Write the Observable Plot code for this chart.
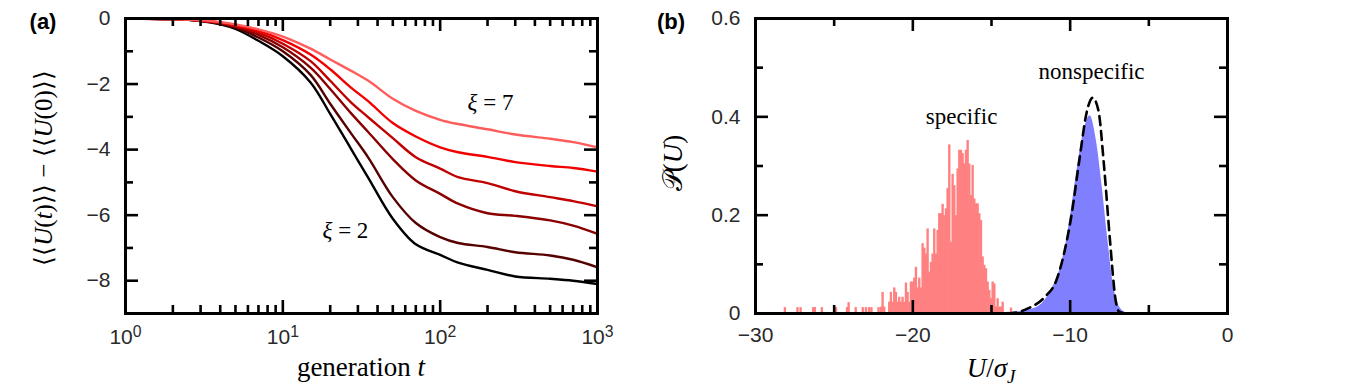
<!DOCTYPE html>
<html><head><meta charset="utf-8">
<script src="https://cdn.jsdelivr.net/npm/d3@7"></script>
<script src="https://cdn.jsdelivr.net/npm/@observablehq/plot@0.6"></script>
<style>
body{margin:0;background:#fff;}
#wrap{position:relative;width:1355px;height:390px;overflow:hidden;background:#fff;}
#wrap svg{position:absolute;top:0;}
.serif{font-family:'Liberation Serif','Times New Roman',serif !important;}
</style></head><body><div id="wrap"></div>
<script>
// ---------- Panel (a) data ----------
const generations = [1,2,3,4,5,7,10,15,20,27,35,50,70,100,130,200,300,500,700,1000];
const xiValues = [2,3,4,5,6,7];
const xiColors = ["#000000","#560000","#8a0000","#c00000","#f20000","#ff5c5c"];
const curveXi2 = [0,-0.02,-0.08,-0.18,-0.32,-0.68,-1.15,-1.95,-2.91,-3.96,-4.87,-6.11,-6.89,-7.21,-7.45,-7.67,-7.87,-7.94,-8.0,-8.1];
const curveXi3 = [0,-0.02,-0.07,-0.16,-0.28,-0.58,-1.0,-1.72,-2.6,-3.49,-4.25,-5.45,-6.24,-6.67,-6.85,-6.97,-7.13,-7.23,-7.36,-7.59];
const curveXi4 = [0,-0.02,-0.07,-0.15,-0.25,-0.5,-0.88,-1.5,-2.15,-2.88,-3.47,-4.29,-4.94,-5.35,-5.65,-5.94,-6.02,-6.16,-6.32,-6.57];
const curveXi5 = [0,-0.02,-0.06,-0.13,-0.22,-0.43,-0.77,-1.3,-1.9,-2.55,-3.02,-3.65,-4.23,-4.58,-4.84,-5.02,-5.27,-5.45,-5.57,-5.73];
const curveXi6 = [0,-0.02,-0.06,-0.12,-0.2,-0.38,-0.66,-1.1,-1.55,-2.1,-2.53,-3.19,-3.6,-3.93,-4.08,-4.22,-4.38,-4.5,-4.56,-4.67];
const curveXi7 = [0,-0.02,-0.05,-0.11,-0.18,-0.33,-0.55,-0.92,-1.25,-1.59,-1.9,-2.45,-2.82,-3.09,-3.22,-3.38,-3.54,-3.67,-3.77,-3.93];
const aXMajor = [1,10,100,1000];
const aXMinor = [2,3,4,5,6,7,8,9,20,30,40,50,60,70,80,90,200,300,400,500,600,700,800,900];
const aYMajor = [-8,-6,-4,-2,0];
const aYMinor = [-7,-5,-3,-1];

// ---------- Panel (b) data ----------
const specificStart = -22.05, specificBinWidth = 0.106;
const specificHeights = [0.013,0.043,0.013,0,0,0.023,0.043,0.023,0.052,0.043,0.023,0.033,0.023,0.033,0.023,0.062,0.043,0.023,0.064,0.064,
  0.072,0.094,0.052,0.072,0.052,0.142,0.133,0.121,0.172,0.084,0.104,0.121,0.172,0.121,0.169,0.203,0.203,0.222,0.199,0.213,
  0.254,0.343,0.145,0.283,0.260,0.199,0.294,0.332,0.332,0.325,0.304,0.332,0.352,0.304,0.240,0.301,0.233,0.223,0.223,0.203,
  0.189,0.115,0.098,0.091,0.064,0.047,0.030,0.064,0.060,0.013,0.030,0.013,0.013,0.023,0,0,0,0,0.011];
const specificTailU = [-28.1,-27.3,-27.1,-26.3,-26.2,-25.75,-24.85,-24.15,-24.05,-23.6,-23.15,-22.95,-22.75,-22.6,-22.15];
const specificTailP = [0.012,0.012,0.012,0.012,0.012,0.012,0.012,0.012,0.022,0.012,0.012,0.012,0.012,0.012,0.012];
const nonspecU = [-15.5,-13.5,-12.3,-11.6,-11.1,-10.6,-10.27,-9.9,-9.54,-9.17,-8.74,-8.33,-7.96,-7.6,-7.23,-6.87,-6.4,-6.0];
const nonspecP = [0.001,0.003,0.010,0.027,0.054,0.095,0.142,0.216,0.297,0.365,0.402,0.351,0.257,0.149,0.054,0.0135,0.001,0];
const fitU = [-14,-13.3,-12.57,-11.6,-10.87,-10.39,-9.9,-9.42,-8.93,-8.57,-8.2,-7.84,-7.47,-7.11,-6.87,-6.5];
const fitP = [0,0.003,0.012,0.034,0.068,0.122,0.203,0.311,0.412,0.439,0.412,0.297,0.149,0.027,0.003,0];
const bXMajor = [-30,-20,-10,0];
const bXMinor = [-25,-15,-5];
const bYMajor = [0,0.2,0.4,0.6];
const bYMinor = [0.1,0.3,0.5];

// ---------- tables ----------
const curves = [curveXi2,curveXi3,curveXi4,curveXi5,curveXi6,curveXi7];
const aRows = [];
curves.forEach((c, k) => c.forEach((v, i) => aRows.push({xi: xiValues[k], t: generations[i], v})));
const specRows = specificHeights.map((p, i) => ({x1: specificStart + i*specificBinWidth, x2: specificStart + (i+1)*specificBinWidth, p}));
specificTailU.forEach((u, i) => specRows.push({x1: u - specificBinWidth/2, x2: u + specificBinWidth/2, p: specificTailP[i]}));
const nonspecRows = nonspecU.map((u, i) => ({u, p: nonspecP[i]}));
const fitRows = fitU.map((u, i) => ({u, p: fitP[i]}));

const H = 390, MT = 18, MB = 77, PH = H - MT - MB;  // plot height 295
const MAJ = 13, MIN = 8, TW = 2.6;
const minus = s => String(s).replace("-", "\u2212");
const sans = "'Liberation Sans', Helvetica, Arial, sans-serif";
const serif = "'Liberation Serif', 'Times New Roman', serif";

function frameTicks(xMaj, xMin, yMaj, yMin, PW) {
  const m = [];
  for (const [vals, len] of [[xMaj, MAJ], [xMin, MIN]]) {
    m.push(Plot.tickX(vals, {x: d => d, insetTop: PH - len, stroke: "black", strokeWidth: TW}));
    m.push(Plot.tickX(vals, {x: d => d, insetBottom: PH - len, stroke: "black", strokeWidth: TW}));
  }
  for (const [vals, len] of [[yMaj, MAJ], [yMin, MIN]]) {
    m.push(Plot.tickY(vals, {y: d => d, insetRight: PW - len, stroke: "black", strokeWidth: TW}));
    m.push(Plot.tickY(vals, {y: d => d, insetLeft: PW - len, stroke: "black", strokeWidth: TW}));
  }
  return m;
}

// ---------- Panel (a) ----------
const W1 = 650, ML1 = 125, MR1 = 53, PW1 = W1 - ML1 - MR1;
const svgA = Plot.plot({
  width: W1, height: H, marginLeft: ML1, marginRight: MR1, marginTop: MT, marginBottom: MB,
  style: {fontFamily: sans, fontSize: "21px", color: "#2a2a2a", background: "transparent", overflow: "visible"},
  x: {type: "log", domain: [1, 1000]},
  y: {domain: [-9, 0]},
  color: {domain: xiValues, range: xiColors},
  marks: [
    Plot.axisX(aXMajor, {tickSize: 0, tickPadding: 16, label: null, tickFormat: d => "10^" + Math.round(Math.log10(d))}),
    Plot.axisY(aYMajor, {tickSize: 0, tickPadding: 15, label: null, tickFormat: d => minus(d)}),
    Plot.line(aRows, {x: "t", y: "v", z: "xi", stroke: "xi", strokeWidth: 2.4, curve: "catmull-rom"}),
    Plot.text(["ξ = 7"], {x: 209, y: -2.56, text: d => d, fontSize: 23, fill: "black"}),
    Plot.text(["ξ = 2"], {x: 25, y: -6.47, text: d => d, fontSize: 23, fill: "black"}),
    ...frameTicks(aXMajor, aXMinor, aYMajor, aYMinor, PW1),
    Plot.frame({stroke: "black", strokeWidth: 3})
  ]
});
svgA.style.left = "0px";

// ---------- Panel (b) ----------
const W2 = 705, ML2 = 105, MR2 = 128, PW2 = W2 - ML2 - MR2;
const svgB = Plot.plot({
  width: W2, height: H, marginLeft: ML2, marginRight: MR2, marginTop: MT, marginBottom: MB,
  style: {fontFamily: sans, fontSize: "21px", color: "#2a2a2a", background: "transparent", overflow: "visible"},
  x: {domain: [-30, 0]},
  y: {domain: [0, 0.6]},
  marks: [
    Plot.axisX(bXMajor, {tickSize: 0, tickPadding: 14, label: null, tickFormat: d => minus(d)}),
    Plot.axisY(bYMajor, {tickSize: 0, tickPadding: 15, label: null, tickFormat: d => d === 0 ? "0" : d.toFixed(1)}),
    Plot.areaY(nonspecRows, {x: "u", y: "p", fill: "#8080ff", curve: "monotone-x"}),
    Plot.rectY(specRows, {x1: "x1", x2: "x2", y: "p", fill: "#ff8080", insetLeft: -0.35, insetRight: -0.35}),
    Plot.line(fitRows, {x: "u", y: "p", stroke: "black", strokeWidth: 2.6, strokeDasharray: "9,6", curve: "monotone-x"}),
    Plot.text(["specific"], {x: -16.9, y: 0.40, text: d => d, fontSize: 23, fill: "black"}),
    Plot.text(["nonspecific"], {x: -8.64, y: 0.492, text: d => d, fontSize: 23, fill: "black"}),
    ...frameTicks(bXMajor, bXMinor, bYMajor, bYMinor, PW2),
    Plot.frame({stroke: "black", strokeWidth: 3})
  ]
});
svgB.style.left = "650px";

const wrap = document.getElementById("wrap");
wrap.appendChild(svgA);
wrap.appendChild(svgB);

// post-process: superscripts, serif annotations
for (const svg of [svgA, svgB]) {
  d3.select(svg).selectAll("text").each(function() {
    const s = this.textContent;
    const t = d3.select(this);
    if (/^10\^\d$/.test(s)) {
      const e = s.split("^")[1];
      this.textContent = "";
      t.append("tspan").text("10");
      t.append("tspan").attr("dy", "-0.45em").attr("font-size", "0.75em").text(e);
    } else if (s.startsWith("ξ")) {
      const rest = s.slice(1);
      this.textContent = "";
      t.classed("serif", true).style("font-family", serif);
      t.append("tspan").attr("font-style", "italic").text("ξ");
      t.append("tspan").text(rest);
    } else if (s === "specific" || s === "nonspecific") {
      t.classed("serif", true).style("font-family", serif);
    }
  });
}

function addLabel(svg, x, y, rotate, size, family, parts, weight) {
  const t = d3.select(svg).append("text")
    .attr("transform", `translate(${x},${y}) rotate(${rotate})`)
    .attr("text-anchor", "middle")
    .style("font-size", size + "px").style("font-family", family)
    .attr("fill", "black");
  if (weight) t.style("font-weight", weight);
  for (const p of parts) {
    const sp = t.append("tspan").text(p.s);
    if (p.i) sp.style("font-style", "italic");
    if (p.sub) sp.attr("baseline-shift", "-30%").style("font-size", "0.7em");
  }
  return t;
}
addLabel(svgA, 43, 29, 0, 22, sans, [{s: "(a)"}], "bold");
addLabel(svgA, 361, 376, 0, 27, serif, [{s: "generation "}, {s: "t", i: true}]);
addLabel(svgA, 52, 168, -90, 25, serif, [
  {s: "⟨⟨"}, {s: "U", i: true}, {s: "("}, {s: "t", i: true}, {s: ")⟩⟩ − ⟨⟨"}, {s: "U", i: true}, {s: "(0)⟩⟩"}]);
addLabel(svgB, 21, 29, 0, 22, sans, [{s: "(b)"}], "bold");
addLabel(svgB, 341, 377, 0, 27, serif, [{s: "U", i: true}, {s: "/"}, {s: "σ", i: true}, {s: "J", i: true, sub: true}]);
addLabel(svgB, 32, 163, -90, 27, serif, [{s: "𝒫"}, {s: "("}, {s: "U", i: true}, {s: ")"}]);
</script></body></html>
